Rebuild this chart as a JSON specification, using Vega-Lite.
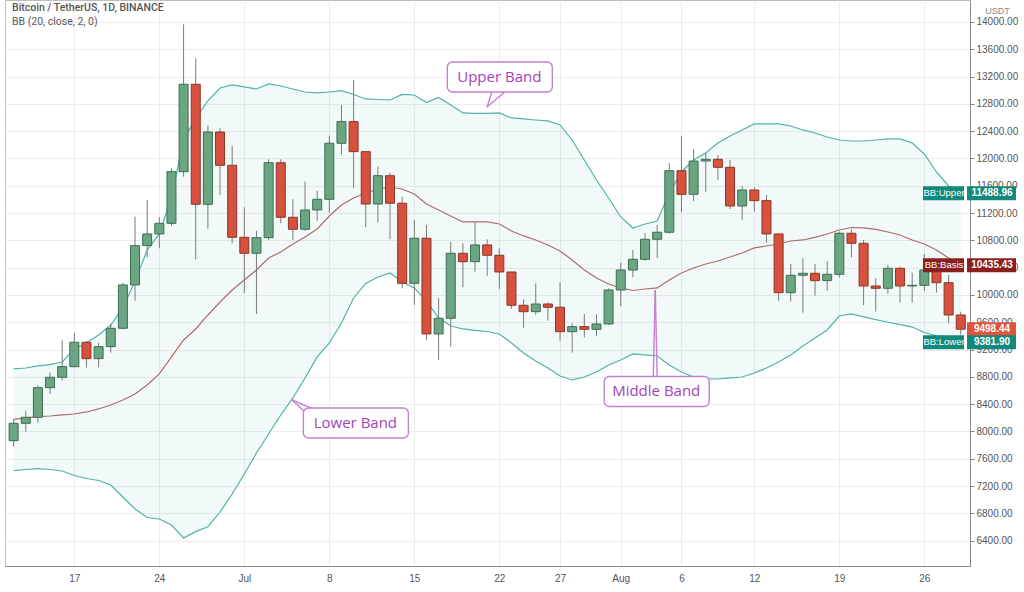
{
  "$schema": "https://vega.github.io/schema/vega-lite/v6.json",
  "width": 965,
  "height": 566,
  "autosize": {"type": "none"},
  "padding": {"left": 5, "top": 0, "right": 54, "bottom": 26},
  "background": "#ffffff",
  "title": {
    "text": "Bitcoin / TetherUS, 1D, BINANCE",
    "subtitle": "BB (20, close, 2, 0)",
    "anchor": "start",
    "frame": "group",
    "orient": "top",
    "offset": -27,
    "dx": 7,
    "font": "Roboto",
    "fontSize": 10.5,
    "fontWeight": 500,
    "color": "#555555",
    "subtitleFont": "Roboto",
    "subtitleFontSize": 10.5,
    "subtitleColor": "#5a5a5a",
    "subtitlePadding": 3
  },
  "datasets": {
    "bb": [
      {"date": "2019-06-12", "open": 7865, "high": 8179, "low": 7777, "close": 8120, "upper": 8916, "basis": 8176, "lower": 7426},
      {"date": "2019-06-13", "open": 8120, "high": 8305, "low": 7997, "close": 8208, "upper": 8930, "basis": 8198, "lower": 7443},
      {"date": "2019-06-14", "open": 8208, "high": 8677, "low": 8129, "close": 8642, "upper": 8960, "basis": 8217, "lower": 7455},
      {"date": "2019-06-15", "open": 8642, "high": 8862, "low": 8549, "close": 8794, "upper": 8980, "basis": 8227, "lower": 7443},
      {"date": "2019-06-16", "open": 8794, "high": 9341, "low": 8744, "close": 8950, "upper": 9018, "basis": 8242, "lower": 7421},
      {"date": "2019-06-17", "open": 8950, "high": 9448, "low": 8940, "close": 9307, "upper": 9209, "basis": 8256, "lower": 7355},
      {"date": "2019-06-18", "open": 9307, "high": 9330, "low": 8935, "close": 9067, "upper": 9297, "basis": 8286, "lower": 7311},
      {"date": "2019-06-19", "open": 9067, "high": 9301, "low": 8940, "close": 9243, "upper": 9414, "basis": 8330, "lower": 7282},
      {"date": "2019-06-20", "open": 9243, "high": 9575, "low": 9155, "close": 9512, "upper": 9560, "basis": 8388, "lower": 7216},
      {"date": "2019-06-21", "open": 9512, "high": 10180, "low": 9500, "close": 10147, "upper": 9810, "basis": 8462, "lower": 7040},
      {"date": "2019-06-22", "open": 10147, "high": 11147, "low": 9917, "close": 10723, "upper": 10205, "basis": 8550, "lower": 6864},
      {"date": "2019-06-23", "open": 10723, "high": 11392, "low": 10552, "close": 10894, "upper": 10659, "basis": 8681, "lower": 6740},
      {"date": "2019-06-24", "open": 10894, "high": 11138, "low": 10684, "close": 11050, "upper": 10894, "basis": 8843, "lower": 6718},
      {"date": "2019-06-25", "open": 11050, "high": 11856, "low": 11011, "close": 11807, "upper": 11436, "basis": 9092, "lower": 6630},
      {"date": "2019-06-26", "open": 11807, "high": 13966, "low": 11733, "close": 13087, "upper": 12271, "basis": 9341, "lower": 6440},
      {"date": "2019-06-27", "open": 13087, "high": 13468, "low": 10523, "close": 11329, "upper": 12594, "basis": 9502, "lower": 6532},
      {"date": "2019-06-28", "open": 11329, "high": 12481, "low": 10972, "close": 12388, "upper": 12843, "basis": 9707, "lower": 6605},
      {"date": "2019-06-29", "open": 12388, "high": 12443, "low": 11465, "close": 11900, "upper": 13033, "basis": 9897, "lower": 6820},
      {"date": "2019-06-30", "open": 11900, "high": 12183, "low": 10758, "close": 10845, "upper": 13077, "basis": 10073, "lower": 7084},
      {"date": "2019-07-01", "open": 10845, "high": 11285, "low": 10025, "close": 10611, "upper": 13048, "basis": 10220, "lower": 7377},
      {"date": "2019-07-02", "open": 10611, "high": 10942, "low": 9722, "close": 10840, "upper": 13018, "basis": 10366, "lower": 7685},
      {"date": "2019-07-03", "open": 10840, "high": 11988, "low": 10806, "close": 11938, "upper": 13092, "basis": 10542, "lower": 7963},
      {"date": "2019-07-04", "open": 11938, "high": 11988, "low": 11050, "close": 11138, "upper": 13062, "basis": 10630, "lower": 8242},
      {"date": "2019-07-05", "open": 11138, "high": 11402, "low": 10806, "close": 10963, "upper": 13018, "basis": 10747, "lower": 8491},
      {"date": "2019-07-06", "open": 10963, "high": 11660, "low": 10940, "close": 11245, "upper": 12974, "basis": 10850, "lower": 8784},
      {"date": "2019-07-07", "open": 11245, "high": 11528, "low": 11089, "close": 11402, "upper": 12960, "basis": 10967, "lower": 9092},
      {"date": "2019-07-08", "open": 11402, "high": 12334, "low": 11206, "close": 12223, "upper": 12974, "basis": 11157, "lower": 9297},
      {"date": "2019-07-09", "open": 12223, "high": 12784, "low": 12062, "close": 12540, "upper": 12994, "basis": 11319, "lower": 9590},
      {"date": "2019-07-10", "open": 12540, "high": 13150, "low": 11563, "close": 12100, "upper": 12938, "basis": 11421, "lower": 9956},
      {"date": "2019-07-11", "open": 12100, "high": 12110, "low": 10992, "close": 11333, "upper": 12872, "basis": 11494, "lower": 10169},
      {"date": "2019-07-12", "open": 11333, "high": 11880, "low": 11060, "close": 11748, "upper": 12864, "basis": 11553, "lower": 10264},
      {"date": "2019-07-13", "open": 11748, "high": 11792, "low": 10816, "close": 11344, "upper": 12857, "basis": 11582, "lower": 10322},
      {"date": "2019-07-14", "open": 11344, "high": 11440, "low": 10098, "close": 10171, "upper": 12938, "basis": 11553, "lower": 10190},
      {"date": "2019-07-15", "open": 10171, "high": 11099, "low": 9853, "close": 10831, "upper": 12930, "basis": 11480, "lower": 10103},
      {"date": "2019-07-16", "open": 10831, "high": 11026, "low": 9341, "close": 9429, "upper": 12820, "basis": 11333, "lower": 9912},
      {"date": "2019-07-17", "open": 9429, "high": 9952, "low": 9048, "close": 9659, "upper": 12894, "basis": 11245, "lower": 9663},
      {"date": "2019-07-18", "open": 9659, "high": 10781, "low": 9243, "close": 10611, "upper": 12784, "basis": 11157, "lower": 9546},
      {"date": "2019-07-19", "open": 10611, "high": 10758, "low": 10113, "close": 10488, "upper": 12667, "basis": 11070, "lower": 9502},
      {"date": "2019-07-20", "open": 10488, "high": 11065, "low": 10342, "close": 10733, "upper": 12662, "basis": 11070, "lower": 9480},
      {"date": "2019-07-21", "open": 10733, "high": 10816, "low": 10278, "close": 10582, "upper": 12662, "basis": 11070, "lower": 9465},
      {"date": "2019-07-22", "open": 10582, "high": 10684, "low": 10088, "close": 10337, "upper": 12667, "basis": 11040, "lower": 9429},
      {"date": "2019-07-23", "open": 10337, "high": 10340, "low": 9800, "close": 9849, "upper": 12594, "basis": 10938, "lower": 9297},
      {"date": "2019-07-24", "open": 9849, "high": 9937, "low": 9512, "close": 9755, "upper": 12579, "basis": 10865, "lower": 9150},
      {"date": "2019-07-25", "open": 9755, "high": 10171, "low": 9707, "close": 9868, "upper": 12564, "basis": 10806, "lower": 9033},
      {"date": "2019-07-26", "open": 9868, "high": 9890, "low": 9624, "close": 9820, "upper": 12550, "basis": 10733, "lower": 8930},
      {"date": "2019-07-27", "open": 9820, "high": 10186, "low": 9330, "close": 9462, "upper": 12491, "basis": 10645, "lower": 8813},
      {"date": "2019-07-28", "open": 9462, "high": 9585, "low": 9155, "close": 9536, "upper": 12271, "basis": 10513, "lower": 8755},
      {"date": "2019-07-29", "open": 9536, "high": 9722, "low": 9380, "close": 9497, "upper": 11978, "basis": 10366, "lower": 8798},
      {"date": "2019-07-30", "open": 9497, "high": 9717, "low": 9400, "close": 9575, "upper": 11685, "basis": 10249, "lower": 8872},
      {"date": "2019-07-31", "open": 9575, "high": 10098, "low": 9560, "close": 10073, "upper": 11421, "basis": 10161, "lower": 8974},
      {"date": "2019-08-01", "open": 10073, "high": 10473, "low": 9839, "close": 10366, "upper": 11143, "basis": 10103, "lower": 9048},
      {"date": "2019-08-02", "open": 10366, "high": 10659, "low": 10259, "close": 10523, "upper": 10982, "basis": 10066, "lower": 9136},
      {"date": "2019-08-03", "open": 10523, "high": 10904, "low": 10500, "close": 10816, "upper": 11040, "basis": 10088, "lower": 9121},
      {"date": "2019-08-04", "open": 10816, "high": 11026, "low": 10538, "close": 10919, "upper": 11084, "basis": 10103, "lower": 9106},
      {"date": "2019-08-05", "open": 10919, "high": 11930, "low": 10900, "close": 11821, "upper": 11494, "basis": 10220, "lower": 8974},
      {"date": "2019-08-06", "open": 11821, "high": 12330, "low": 11212, "close": 11475, "upper": 11802, "basis": 10322, "lower": 8872},
      {"date": "2019-08-07", "open": 11475, "high": 12135, "low": 11377, "close": 11963, "upper": 11978, "basis": 10396, "lower": 8798},
      {"date": "2019-08-08", "open": 11963, "high": 12076, "low": 11505, "close": 11988, "upper": 12081, "basis": 10454, "lower": 8769},
      {"date": "2019-08-09", "open": 11988, "high": 12052, "low": 11685, "close": 11871, "upper": 12227, "basis": 10498, "lower": 8769},
      {"date": "2019-08-10", "open": 11871, "high": 11978, "low": 11260, "close": 11304, "upper": 12330, "basis": 10557, "lower": 8784},
      {"date": "2019-08-11", "open": 11304, "high": 11597, "low": 11099, "close": 11538, "upper": 12418, "basis": 10615, "lower": 8798},
      {"date": "2019-08-12", "open": 11538, "high": 11577, "low": 11221, "close": 11382, "upper": 12506, "basis": 10689, "lower": 8857},
      {"date": "2019-08-13", "open": 11382, "high": 11465, "low": 10767, "close": 10894, "upper": 12506, "basis": 10718, "lower": 8930},
      {"date": "2019-08-14", "open": 10894, "high": 10900, "low": 9917, "close": 10034, "upper": 12506, "basis": 10747, "lower": 9018},
      {"date": "2019-08-15", "open": 10034, "high": 10455, "low": 9902, "close": 10289, "upper": 12476, "basis": 10791, "lower": 9121},
      {"date": "2019-08-16", "open": 10289, "high": 10538, "low": 9741, "close": 10318, "upper": 12418, "basis": 10806, "lower": 9253},
      {"date": "2019-08-17", "open": 10318, "high": 10455, "low": 9990, "close": 10210, "upper": 12374, "basis": 10843, "lower": 9370},
      {"date": "2019-08-18", "open": 10210, "high": 10498, "low": 10063, "close": 10303, "upper": 12315, "basis": 10894, "lower": 9487},
      {"date": "2019-08-19", "open": 10303, "high": 10928, "low": 10254, "close": 10904, "upper": 12271, "basis": 10952, "lower": 9692},
      {"date": "2019-08-20", "open": 10904, "high": 10962, "low": 10552, "close": 10757, "upper": 12256, "basis": 10989, "lower": 9722},
      {"date": "2019-08-21", "open": 10757, "high": 10806, "low": 9853, "close": 10132, "upper": 12256, "basis": 10982, "lower": 9680},
      {"date": "2019-08-22", "open": 10132, "high": 10245, "low": 9756, "close": 10098, "upper": 12271, "basis": 10960, "lower": 9640},
      {"date": "2019-08-23", "open": 10098, "high": 10440, "low": 10015, "close": 10391, "upper": 12286, "basis": 10923, "lower": 9600},
      {"date": "2019-08-24", "open": 10391, "high": 10415, "low": 9888, "close": 10132, "upper": 12286, "basis": 10879, "lower": 9565},
      {"date": "2019-08-25", "open": 10132, "high": 10327, "low": 9888, "close": 10142, "upper": 12227, "basis": 10806, "lower": 9530},
      {"date": "2019-08-26", "open": 10142, "high": 10601, "low": 10060, "close": 10366, "upper": 12066, "basis": 10747, "lower": 9450},
      {"date": "2019-08-27", "open": 10366, "high": 10391, "low": 10034, "close": 10180, "upper": 11802, "basis": 10659, "lower": 9400},
      {"date": "2019-08-28", "open": 10180, "high": 10293, "low": 9585, "close": 9707, "upper": 11597, "basis": 10542, "lower": 9385},
      {"date": "2019-08-29", "open": 9707, "high": 9756, "low": 9420, "close": 9498.44, "upper": 11488.96, "basis": 10435.43, "lower": 9381.9}
    ],
    "notes": [
      {"label": "Upper Band", "date": "2019-07-22T00:00:00Z", "price": 13194},
      {"label": "Lower Band", "date": "2019-07-10T03:30:00Z", "price": 8125},
      {"label": "Middle Band", "date": "2019-08-03T22:05:00Z", "price": 8586}
    ],
    "pointers": [
      {"date": "2019-07-21T09:22:00Z", "price": 12974, "date2": "2019-07-20T23:38:00Z", "price2": 12755},
      {"date": "2019-07-22T10:48:00Z", "price": 12974, "date2": "2019-07-20T23:38:00Z", "price2": 12755},
      {"date": "2019-07-05T21:50:00Z", "price": 8300, "date2": "2019-07-04T22:19:00Z", "price2": 8462},
      {"date": "2019-07-06T11:30:00Z", "price": 8344, "date2": "2019-07-04T22:19:00Z", "price2": 8462},
      {"date": "2019-08-03T16:19:00Z", "price": 8799, "date2": "2019-08-03T20:10:00Z", "price2": 10073},
      {"date": "2019-08-04T00:00:00Z", "price": 8799, "date2": "2019-08-03T20:10:00Z", "price2": 10073}
    ],
    "labels": [
      {"name": "BB:Upper", "value": 11488.96},
      {"name": "BB:Basis", "value": 10435.43},
      {"name": "Last", "value": 9498.44},
      {"name": "BB:Lower", "value": 9381.9}
    ]
  },
  "layer": [
    {
      "data": {"name": "bb"},
      "mark": {"type": "area", "fill": "#26a69a", "opacity": 0.06},
      "encoding": {
        "x": {
          "field": "date", "type": "temporal",
          "scale": {"type": "utc", "domain": [
            {"year": 2019, "month": 6, "date": 11, "hours": 16, "minutes": 52, "utc": true},
            {"year": 2019, "month": 8, "date": 29, "hours": 8, "minutes": 24, "utc": true}
          ]},
          "axis": {
            "title": null,
            "values": [
              {"year": 2019, "month": 6, "date": 17, "utc": true},
              {"year": 2019, "month": 6, "date": 24, "utc": true},
              {"year": 2019, "month": 7, "date": 1, "utc": true},
              {"year": 2019, "month": 7, "date": 8, "utc": true},
              {"year": 2019, "month": 7, "date": 15, "utc": true},
              {"year": 2019, "month": 7, "date": 22, "utc": true},
              {"year": 2019, "month": 7, "date": 27, "utc": true},
              {"year": 2019, "month": 8, "date": 1, "utc": true},
              {"year": 2019, "month": 8, "date": 6, "utc": true},
              {"year": 2019, "month": 8, "date": 12, "utc": true},
              {"year": 2019, "month": 8, "date": 19, "utc": true},
              {"year": 2019, "month": 8, "date": 26, "utc": true}
            ],
            "tickCount": 30,
            "labelExpr": "utcdate(datum.value) == 1 ? utcFormat(datum.value, '%b') : utcFormat(datum.value, '%-d')",
            "grid": true,
            "ticks": false,
            "labelPadding": 7,
            "labelFontSize": 10,
            "labelFlush": false,
            "labelOverlap": false
          }
        },
        "y": {
          "field": "upper", "type": "quantitative",
          "scale": {"domain": [6029, 14322], "zero": false, "nice": false},
          "axis": {
            "orient": "right",
            "values": [6400, 6800, 7200, 7600, 8000, 8400, 8800, 9200, 9600, 10000, 10400, 10800, 11200, 11600, 12000, 12400, 12800, 13200, 13600, 14000],
            "tickCount": 30,
            "format": ".2f",
            "grid": true,
            "tickSize": 4,
            "labelPadding": 2,
            "labelFontSize": 10,
            "labelOverlap": false,
            "title": "USDT",
            "titleAngle": 0,
            "titleX": 27,
            "titleY": 10,
            "titleAlign": "center",
            "titleBaseline": "middle",
            "titleFont": "Liberation Sans",
            "titleFontSize": 9,
            "titleFontWeight": "normal",
            "titleColor": "#8a8a8a"
          }
        },
        "y2": {"field": "lower"}
      }
    },
    {
      "data": {"name": "bb"},
      "mark": {"type": "line", "color": "#4fb3a6", "strokeWidth": 1.2},
      "encoding": {
        "x": {"field": "date", "type": "temporal"},
        "y": {"field": "upper", "type": "quantitative"}
      }
    },
    {
      "data": {"name": "bb"},
      "mark": {"type": "line", "color": "#4fb3a6", "strokeWidth": 1.2},
      "encoding": {
        "x": {"field": "date", "type": "temporal"},
        "y": {"field": "lower", "type": "quantitative"}
      }
    },
    {
      "data": {"name": "bb"},
      "mark": {"type": "line", "color": "#b06a68", "strokeWidth": 1.2},
      "encoding": {
        "x": {"field": "date", "type": "temporal"},
        "y": {"field": "basis", "type": "quantitative"}
      }
    },
    {
      "data": {"name": "bb"},
      "mark": {"type": "rule", "color": "#7a7a7a", "strokeWidth": 1},
      "encoding": {
        "x": {"field": "date", "type": "temporal"},
        "y": {"field": "low", "type": "quantitative"},
        "y2": {"field": "high"}
      }
    },
    {
      "data": {"name": "bb"},
      "mark": {"type": "bar", "width": 9, "strokeWidth": 1},
      "encoding": {
        "x": {"field": "date", "type": "temporal"},
        "y": {"field": "open", "type": "quantitative"},
        "y2": {"field": "close"},
        "fill": {"condition": {"test": "datum.close >= datum.open", "value": "#6aa584"}, "value": "#d6513e"},
        "stroke": {"condition": {"test": "datum.close >= datum.open", "value": "#3d6e50"}, "value": "#8e3326"}
      }
    },
    {
      "data": {"name": "pointers"},
      "mark": {"type": "rule", "color": "#c67fd0", "strokeWidth": 1.4},
      "encoding": {
        "x": {"field": "date", "type": "temporal"},
        "x2": {"field": "date2"},
        "y": {"field": "price", "type": "quantitative"},
        "y2": {"field": "price2"}
      }
    },
    {
      "data": {"name": "notes"},
      "mark": {"type": "rect", "fill": "#ffffff", "stroke": "#c67fd0", "strokeWidth": 1.4, "cornerRadius": 5, "xOffset": -52, "x2Offset": 53, "yOffset": -15, "y2Offset": 15},
      "encoding": {
        "x": {"field": "date", "type": "temporal"},
        "x2": {"field": "date"},
        "y": {"field": "price", "type": "quantitative"},
        "y2": {"field": "price"}
      }
    },
    {
      "data": {"name": "notes"},
      "mark": {"type": "text", "font": "Open Sans", "fontSize": 15, "color": "#a53fb8", "align": "center", "baseline": "middle"},
      "encoding": {
        "x": {"field": "date", "type": "temporal"},
        "y": {"field": "price", "type": "quantitative"},
        "text": {"field": "label"}
      }
    },
    {
      "data": {"name": "labels"},
      "transform": [{"filter": "datum.name != 'Last' && datum.name != 'BB:Lower'"}],
      "mark": {"type": "rect", "xOffset": -42, "x2Offset": -1, "yOffset": -7, "y2Offset": 7},
      "encoding": {
        "x": {"datum": {"year": 2019, "month": 8, "date": 29, "hours": 8, "minutes": 24, "utc": true}, "type": "temporal"},
        "x2": {"datum": {"year": 2019, "month": 8, "date": 29, "hours": 8, "minutes": 24, "utc": true}},
        "y": {"field": "value", "type": "quantitative"},
        "y2": {"field": "value"},
        "fill": {"field": "name", "type": "nominal", "scale": {"domain": ["BB:Upper", "BB:Basis", "Last", "BB:Lower"], "range": ["#12897b", "#8b1e1e", "#e0533d", "#12897b"]}, "legend": null}
      }
    },
    {
      "data": {"name": "labels"},
      "transform": [{"filter": "datum.name != 'BB:Lower'"}],
      "mark": {"type": "rect", "xOffset": 2, "x2Offset": 51, "yOffset": -7, "y2Offset": 7},
      "encoding": {
        "x": {"datum": {"year": 2019, "month": 8, "date": 29, "hours": 8, "minutes": 24, "utc": true}, "type": "temporal"},
        "x2": {"datum": {"year": 2019, "month": 8, "date": 29, "hours": 8, "minutes": 24, "utc": true}},
        "y": {"field": "value", "type": "quantitative"},
        "y2": {"field": "value"},
        "fill": {"field": "name", "type": "nominal", "legend": null}
      }
    },
    {
      "data": {"name": "labels"},
      "transform": [{"filter": "datum.name == 'BB:Lower'"}],
      "mark": {"type": "rect", "xOffset": -42, "x2Offset": -1, "yOffset": -2, "y2Offset": 12},
      "encoding": {
        "x": {"datum": {"year": 2019, "month": 8, "date": 29, "hours": 8, "minutes": 24, "utc": true}, "type": "temporal"},
        "x2": {"datum": {"year": 2019, "month": 8, "date": 29, "hours": 8, "minutes": 24, "utc": true}},
        "y": {"field": "value", "type": "quantitative"},
        "y2": {"field": "value"},
        "fill": {"field": "name", "type": "nominal", "legend": null}
      }
    },
    {
      "data": {"name": "labels"},
      "transform": [{"filter": "datum.name == 'BB:Lower'"}],
      "mark": {"type": "rect", "xOffset": 2, "x2Offset": 51, "yOffset": -2, "y2Offset": 12},
      "encoding": {
        "x": {"datum": {"year": 2019, "month": 8, "date": 29, "hours": 8, "minutes": 24, "utc": true}, "type": "temporal"},
        "x2": {"datum": {"year": 2019, "month": 8, "date": 29, "hours": 8, "minutes": 24, "utc": true}},
        "y": {"field": "value", "type": "quantitative"},
        "y2": {"field": "value"},
        "fill": {"field": "name", "type": "nominal", "legend": null}
      }
    },
    {
      "data": {"name": "labels"},
      "transform": [{"filter": "datum.name != 'Last' && datum.name != 'BB:Lower'"}],
      "mark": {"type": "text", "font": "Liberation Sans", "fontSize": 9.5, "color": "#ffffff", "align": "center", "baseline": "middle", "dx": -21},
      "encoding": {
        "x": {"datum": {"year": 2019, "month": 8, "date": 29, "hours": 8, "minutes": 24, "utc": true}, "type": "temporal"},
        "y": {"field": "value", "type": "quantitative"},
        "text": {"field": "name"}
      }
    },
    {
      "data": {"name": "labels"},
      "transform": [{"filter": "datum.name != 'BB:Lower'"}],
      "mark": {"type": "text", "font": "Liberation Sans", "fontSize": 10, "fontWeight": "bold", "color": "#ffffff", "align": "center", "baseline": "middle", "dx": 27},
      "encoding": {
        "x": {"datum": {"year": 2019, "month": 8, "date": 29, "hours": 8, "minutes": 24, "utc": true}, "type": "temporal"},
        "y": {"field": "value", "type": "quantitative"},
        "text": {"field": "value", "type": "quantitative", "format": ".2f"}
      }
    },
    {
      "data": {"name": "labels"},
      "transform": [{"filter": "datum.name == 'BB:Lower'"}],
      "mark": {"type": "text", "font": "Liberation Sans", "fontSize": 9.5, "color": "#ffffff", "align": "center", "baseline": "middle", "dx": -21, "dy": 5},
      "encoding": {
        "x": {"datum": {"year": 2019, "month": 8, "date": 29, "hours": 8, "minutes": 24, "utc": true}, "type": "temporal"},
        "y": {"field": "value", "type": "quantitative"},
        "text": {"field": "name"}
      }
    },
    {
      "data": {"name": "labels"},
      "transform": [{"filter": "datum.name == 'BB:Lower'"}],
      "mark": {"type": "text", "font": "Liberation Sans", "fontSize": 10, "fontWeight": "bold", "color": "#ffffff", "align": "center", "baseline": "middle", "dx": 27, "dy": 5},
      "encoding": {
        "x": {"datum": {"year": 2019, "month": 8, "date": 29, "hours": 8, "minutes": 24, "utc": true}, "type": "temporal"},
        "y": {"field": "value", "type": "quantitative"},
        "text": {"field": "value", "type": "quantitative", "format": ".2f"}
      }
    }
  ],
  "config": {
    "view": {"stroke": "#bdbdbd"},
    "axis": {
      "domainColor": "#8a8a8a",
      "tickColor": "#8a8a8a",
      "gridColor": "#ececec",
      "labelColor": "#555555",
      "labelFont": "Liberation Sans",
      "labelOverlap": false
    }
  }
}
